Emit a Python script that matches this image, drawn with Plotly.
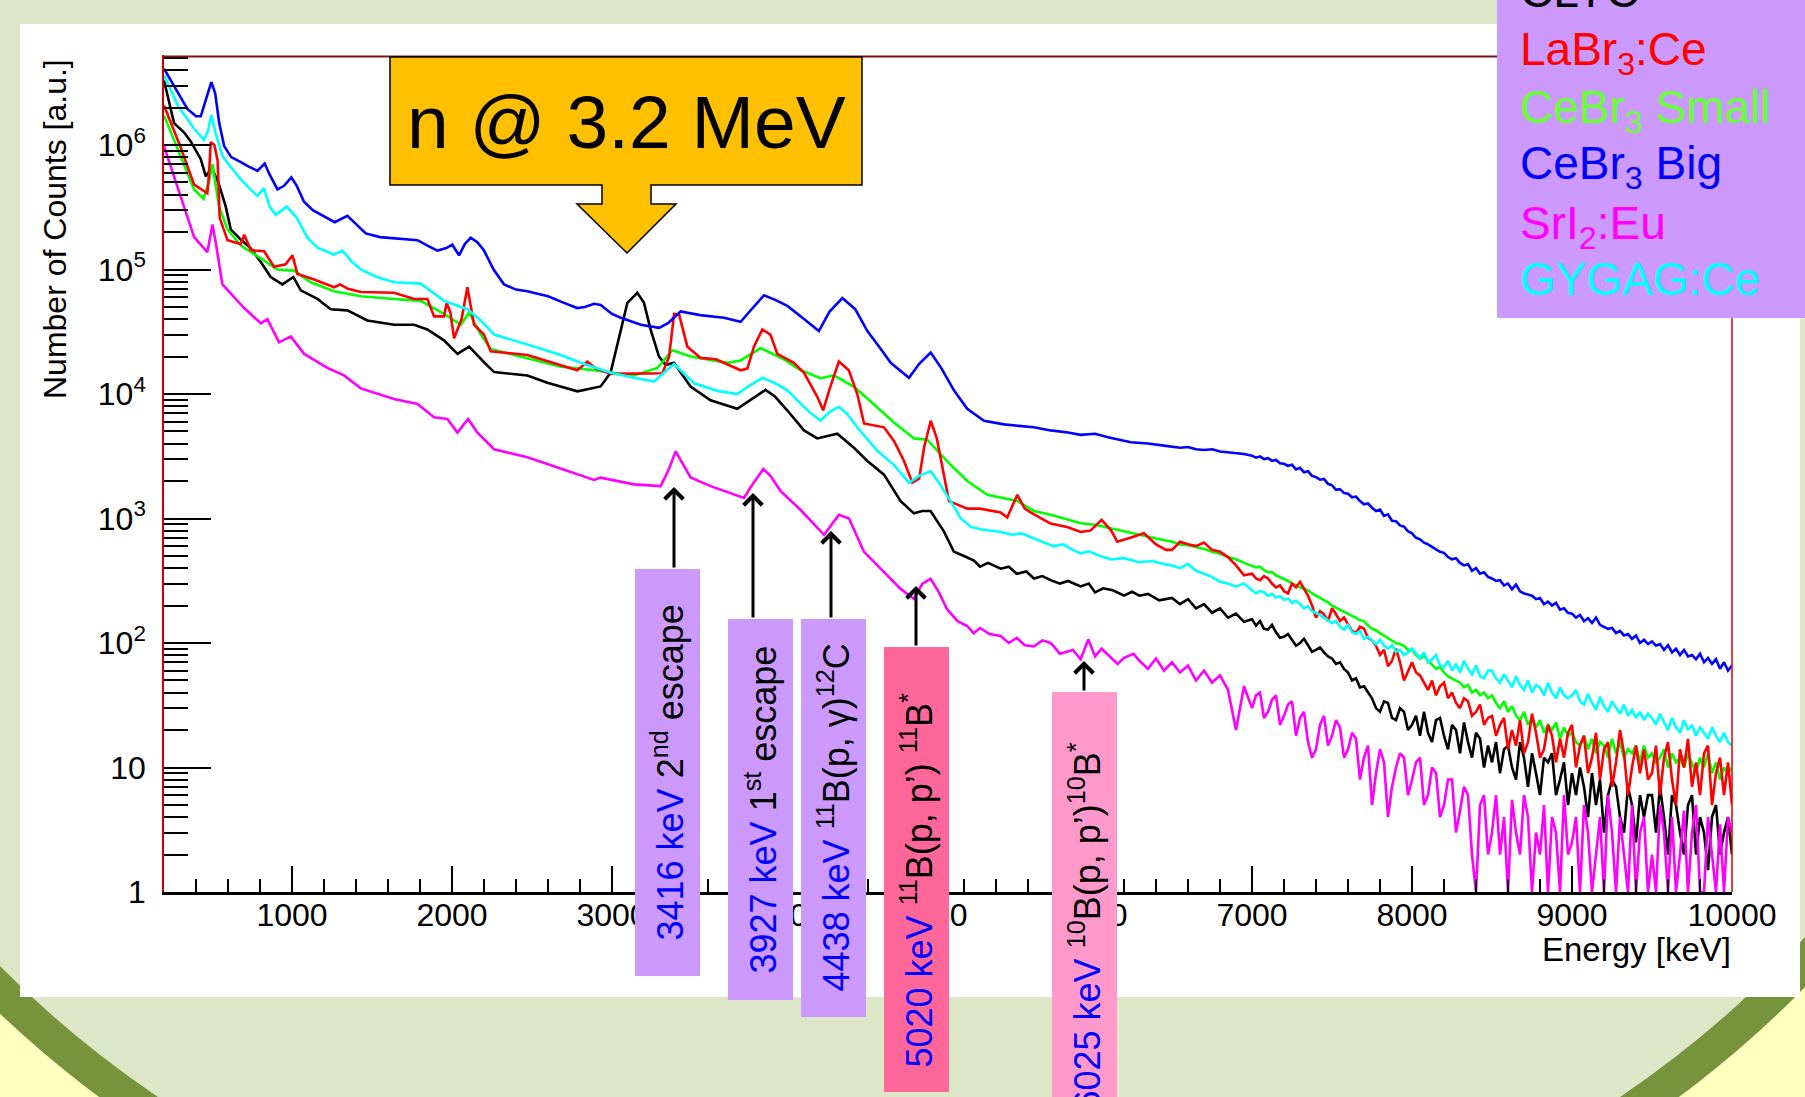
import plotly.graph_objects as go

# ---------------- canvas / frame geometry ----------------
W, H = 1805, 1097
ML, MR, MT, MB = 164, 73, 55, 205

# ---------------- data ----------------
SERIES_NAMES = ["CLYC", "LaBr3:Ce", "CeBr3 Small", "CeBr3 Big", "SrI2:Eu", "GYGAG:Ce"]

X_TICKS = [1000, 2000, 3000, 4000, 5000, 6000, 7000, 8000, 9000, 10000]
X_TICK_TEXT = ["1000", "2000", "3000", "4000", "5000", "6000", "7000", "8000", "9000", "10000"]
Y_TICKS = [1, 10, 100, 1000, 10000, 100000, 1000000]
Y_TICK_TEXT = ["1", "10", "10<sup>2</sup>", "10<sup>3</sup>", "10<sup>4</sup>", "10<sup>5</sup>", "10<sup>6</sup>"]
Y_MINOR = [m * d for d in [1, 10, 100, 1000, 10000, 100000, 1000000] for m in range(2, 10)]

# energy bins of the noisy high-energy tail (keV)
TAIL_E = list(range(7000, 10001, 25))

# (energy keV, counts) for the smoother part of each spectrum
CLYC_LOW = [
    (200, 3.3e6), (263, 1.5e6), (326, 1.26e6), (367, 1.07e6), (430, 7.7e5), (461, 5.6e5),
    (485, 6.2e5), (505, 6.3e5), (544, 4.8e5), (586, 3.2e5), (617, 2.1e5), (680, 1.74e5),
    (742, 1.48e5), (805, 1.15e5), (867, 8.7e4), (940, 7.6e4), (1009, 8.7e4), (1055, 6.8e4),
    (1159, 5.8e4), (1242, 4.8e4), (1346, 4.7e4), (1471, 3.9e4), (1638, 3.6e4), (1763, 3.6e4),
    (1846, 3.3e4), (1950, 2.7e4), (2034, 2.1e4), (2107, 2.4e4), (2200, 1.8e4), (2263, 1.5e4),
    (2471, 1.41e4), (2596, 1.23e4), (2784, 1.05e4), (2860, 1.1e4), (2929, 1.15e4), (2991, 1.48e4),
    (3054, 3.3e4), (3096, 5.4e4), (3158, 6.5e4), (3200, 5.4e4), (3241, 3.3e4), (3294, 2.0e4),
    (3335, 1.71e4), (3387, 1.78e4), (3491, 1.15e4), (3616, 8.9e3), (3783, 7.6e3), (3870, 9.0e3),
    (3960, 1.08e4), (4020, 9.5e3), (4095, 7.4e3), (4200, 5.1e3), (4283, 4.4e3), (4408, 4.8e3),
    (4512, 3.7e3), (4596, 2.9e3), (4700, 2.25e3), (4804, 1.38e3), (4887, 1.1e3), (4940, 1.15e3),
    (4991, 1.15e3), (5075, 785), (5137, 540), (5200, 500), (5262, 460), (5300, 410), (5350, 440),
    (5429, 395), (5480, 410), (5530, 360), (5590, 375), (5637, 330), (5690, 345), (5741, 320),
    (5800, 300), (5850, 315), (5929, 285), (5980, 300), (6019, 255), (6070, 275), (6130, 265),
    (6200, 240), (6250, 258), (6296, 240), (6350, 248), (6420, 220),
    (6500, 230), (6550, 205), (6600, 225), (6650, 190), (6700, 205), (6750, 175), (6800, 190),
    (6850, 160), (6900, 172), (6950, 148),
]
CLYC_TAIL = [
    155, 138, 150, 130, 128, 140, 122, 110, 112, 118, 106, 95, 100, 108, 96, 85, 88, 92, 84, 78,
    75, 68, 70, 62, 58, 50, 52, 44, 45, 40, 36, 30, 28, 34, 33, 25, 24, 30, 28, 20,
    22, 26, 18, 28, 19, 16, 24, 25, 18, 14, 22, 20, 13, 23, 16, 12, 19, 17, 10, 15,
    11, 16, 9, 14, 15, 10, 8, 16, 12, 7, 13, 9, 6, 12, 11, 13, 6, 8, 11, 5,
    9, 6, 10, 7, 4, 9, 5, 8, 3, 6, 8, 7, 4, 3, 7, 5, 2.5, 6, 4, 6,
    6, 3, 7, 4, 2, 6, 5, 3, 2, 5, 6, 2, 4, 3, 1.5, 4, 5, 2, 3, 4,
    2,
]

LABR_LOW = [
    (200, 2.08e6), (305, 9.5e5), (388, 4.8e5), (471, 4.1e5), (482, 6.0e5), (492, 1.05e6),
    (515, 1.0e6), (535, 7.5e5), (548, 2.6e5), (597, 1.72e5), (680, 1.6e5), (701, 1.9e5),
    (743, 1.43e5), (826, 1.4e5), (888, 1.05e5), (960, 1.1e5), (1003, 1.3e5), (1034, 9.2e4),
    (1138, 8.3e4), (1263, 7.2e4), (1300, 7.6e4), (1350, 7.0e4), (1430, 6.6e4), (1638, 6.5e4),
    (1763, 5.8e4), (1846, 5.8e4), (1888, 4.2e4), (1950, 4.2e4), (1967, 5.4e4), (1990, 4.5e4),
    (2013, 2.8e4), (2060, 4.0e4), (2096, 7.2e4), (2120, 5.0e4), (2138, 3.6e4), (2200, 3.0e4),
    (2242, 2.2e4), (2471, 2.06e4), (2680, 1.7e4), (2783, 1.55e4), (2846, 1.82e4), (2900, 1.6e4),
    (2992, 1.45e4), (3180, 1.45e4), (3315, 1.47e4), (3357, 2.0e4), (3388, 4.4e4), (3420, 4.3e4),
    (3471, 2.4e4), (3554, 1.95e4), (3650, 1.9e4), (3804, 1.55e4), (3846, 1.6e4), (3887, 2.4e4),
    (3940, 3.3e4), (3990, 3.0e4), (4033, 2.1e4), (4137, 1.78e4), (4200, 1.48e4), (4283, 9.5e3),
    (4320, 7.4e3), (4360, 1.1e4), (4418, 1.82e4), (4480, 1.55e4), (4533, 1.0e4), (4575, 5.8e3),
    (4700, 5.4e3), (4762, 4.2e3), (4825, 2.9e3), (4877, 1.94e3), (4920, 2.1e3), (4950, 3.7e3),
    (4992, 6.1e3), (5030, 4.4e3), (5075, 2.25e3), (5106, 1.38e3), (5221, 1.2e3), (5300, 1.2e3),
    (5429, 1.12e3), (5470, 1.02e3), (5533, 1.55e3), (5580, 1.2e3), (5616, 1.12e3), (5741, 910),
    (5850, 850), (5929, 780), (5990, 800), (6060, 975), (6120, 800), (6158, 650), (6240, 700),
    (6325, 760), (6400, 620), (6463, 560),
    (6500, 560), (6550, 650), (6600, 620), (6650, 600), (6700, 640), (6750, 560), (6800, 540),
    (6850, 490), (6900, 420), (6950, 350),
]
LABR_TAIL = [
    360, 330, 320, 345, 330, 300, 280, 290, 260, 250, 300, 280, 310, 270, 240, 200, 160, 180, 170, 150,
    190, 170, 150, 160, 140, 125, 120, 135, 130, 110, 105, 95, 80, 88, 65, 72, 90, 70, 50, 60,
    70, 58, 55, 48, 42, 50, 38, 45, 48, 36, 40, 33, 30, 36, 34, 26, 28, 32, 22, 25,
    26, 18, 22, 25, 14, 20, 15, 24, 13, 16, 27, 19, 12, 14, 22, 18, 11, 17, 12, 19,
    22, 10, 15, 18, 9, 12, 19, 8, 14, 16, 7, 11, 20, 13, 6, 10, 15, 9, 14, 8,
    9, 15, 6, 12, 16, 8, 5, 14, 10, 17, 7, 11, 6, 13, 15, 5, 9, 12, 6, 11,
    5,
]

CEBRS_LOW = [
    (200, 1.73e6), (305, 8.1e5), (388, 4.4e5), (447, 3.7e5), (480, 5.0e5), (503, 7.0e5),
    (525, 4.8e5), (544, 3.2e5), (597, 2.1e5), (680, 1.56e5), (805, 1.23e5), (909, 1.0e5),
    (1013, 9.8e4), (1117, 7.9e4), (1263, 6.7e4), (1430, 6.1e4), (1638, 5.8e4), (1804, 5.6e4),
    (1950, 4.4e4), (2055, 3.6e4), (2106, 4.5e4), (2180, 3.0e4), (2242, 2.3e4), (2471, 1.95e4),
    (2680, 1.66e4), (2888, 1.55e4), (3138, 1.41e4), (3284, 1.62e4), (3378, 2.25e4), (3492, 2.0e4),
    (3721, 1.78e4), (3804, 1.86e4), (3929, 2.34e4), (4075, 1.9e4), (4179, 1.55e4), (4304, 1.34e4),
    (4387, 1.41e4), (4512, 1.14e4), (4596, 9.2e3), (4762, 5.9e3), (4888, 4.4e3), (4970, 4.3e3),
    (5116, 2.7e3), (5221, 2.0e3), (5346, 1.55e3), (5533, 1.38e3), (5637, 1.15e3), (5741, 1.07e3),
    (5850, 980), (5929, 915), (6019, 890), (6150, 820), (6296, 740), (6400, 690),
    (6500, 650), (6550, 620), (6600, 610), (6650, 590), (6700, 570), (6750, 540), (6800, 520),
    (6850, 490), (6900, 470), (6950, 440),
]
CEBRS_TAIL = [
    420, 405, 410, 385, 370, 372, 350, 338, 330, 315, 300, 292, 280, 272, 265, 250, 240, 232, 220, 212,
    200, 192, 185, 178, 170, 165, 160, 152, 150, 138, 130, 126, 120, 115, 110, 104, 100, 98, 95, 88,
    88, 80, 75, 78, 72, 66, 62, 64, 58, 54, 52, 50, 48, 44, 46, 40, 42, 38, 40, 36,
    38, 33, 30, 34, 28, 31, 26, 24, 28, 22, 25, 21, 24, 19, 22, 20, 23, 17, 21, 18,
    19, 16, 15, 18, 14, 17, 13, 16, 15, 12, 17, 13, 16, 12, 14, 13, 15, 11, 15, 12,
    13, 11, 12, 14, 10, 13, 11, 12, 10, 13, 11, 9, 12, 10, 13, 9, 11, 8, 10, 9,
    10,
]

CEBRB_LOW = [
    (200, 4.1e6), (284, 2.7e6), (346, 1.95e6), (400, 1.7e6), (430, 1.7e6), (470, 2.5e6),
    (496, 3.2e6), (520, 2.6e6), (545, 1.5e6), (576, 9.8e5), (620, 8.0e5), (680, 7.3e5),
    (721, 6.8e5), (784, 6.2e5), (829, 7.1e5), (860, 5.8e5), (909, 4.4e5), (950, 4.7e5),
    (996, 5.5e5), (1030, 4.7e5), (1075, 3.5e5), (1130, 3.0e5), (1180, 2.75e5), (1267, 2.4e5),
    (1346, 2.7e5), (1400, 2.3e5), (1461, 1.95e5), (1550, 1.82e5), (1638, 1.78e5), (1784, 1.72e5),
    (1850, 1.55e5), (1909, 1.42e5), (1960, 1.48e5), (2002, 1.58e5), (2044, 1.3e5), (2080, 1.6e5),
    (2117, 1.8e5), (2160, 1.65e5), (2200, 1.42e5), (2260, 1.0e5), (2325, 7.6e4), (2400, 6.9e4),
    (2471, 6.7e4), (2600, 6.1e4), (2700, 5.4e4), (2783, 4.9e4), (2830, 5.0e4), (2888, 5.3e4),
    (2929, 5.2e4), (3000, 4.4e4), (3055, 4.1e4), (3180, 3.6e4), (3294, 3.4e4), (3350, 3.7e4),
    (3429, 4.6e4), (3550, 4.3e4), (3700, 4.1e4), (3804, 3.8e4), (3860, 4.6e4), (3950, 6.2e4),
    (4020, 5.7e4), (4096, 5.1e4), (4200, 4.0e4), (4293, 3.2e4), (4360, 4.6e4), (4440, 5.9e4),
    (4520, 4.8e4), (4596, 3.2e4), (4680, 2.3e4), (4742, 1.78e4), (4856, 1.35e4), (4920, 1.75e4),
    (4992, 2.15e4), (5060, 1.6e4), (5137, 1.07e4), (5220, 7.6e3), (5325, 6.1e3), (5450, 5.7e3),
    (5637, 5.4e3), (5741, 5.1e3), (5850, 4.9e3), (5929, 4.7e3), (6019, 4.8e3), (6100, 4.5e3),
    (6242, 4.1e3), (6350, 4.0e3), (6450, 3.85e3),
    (6500, 3800), (6550, 3700), (6600, 3750), (6650, 3600), (6700, 3550), (6750, 3600),
    (6800, 3450), (6850, 3400), (6900, 3350), (6950, 3300),
]
CEBRB_TAIL = [
    3200, 3080, 3150, 3000, 3050, 2900, 2950, 2780, 2750, 2650, 2700, 2480, 2550, 2350, 2400, 2200, 2150, 2050, 2080, 1900,
    1850, 1700, 1720, 1600, 1580, 1480, 1500, 1380, 1300, 1320, 1220, 1150, 1180, 1050, 1080, 960, 950, 880, 860, 790,
    760, 700, 680, 640, 620, 590, 560, 540, 530, 490, 470, 480, 440, 420, 430, 380, 400, 360, 370, 340,
    330, 315, 320, 290, 300, 270, 295, 260, 250, 245, 240, 225, 230, 205, 215, 200, 210, 185, 190, 175,
    172, 160, 168, 150, 158, 145, 160, 140, 135, 130, 132, 120, 125, 115, 118, 108, 115, 100, 106, 98,
    103, 95, 98, 88, 96, 84, 90, 80, 88, 78, 80, 74, 82, 70, 76, 68, 74, 62, 70, 60,
    66,
]

SRI_LOW = [
    (200, 9.8e5), (263, 5.6e5), (326, 3.2e5), (388, 1.82e5), (471, 1.38e5), (490, 1.8e5),
    (503, 2.3e5), (525, 1.6e5), (544, 1.12e5), (565, 7.6e4), (638, 6.0e4), (701, 4.9e4),
    (805, 3.7e4), (846, 4.0e4), (919, 2.6e4), (992, 2.9e4), (1076, 2.1e4), (1221, 1.62e4),
    (1325, 1.41e4), (1430, 1.11e4), (1638, 9.1e3), (1784, 8.3e3), (1888, 6.5e3), (1971, 6.3e3),
    (2034, 4.9e3), (2100, 6.3e3), (2159, 4.9e3), (2263, 3.6e3), (2471, 3.1e3), (2680, 2.5e3),
    (2888, 2.04e3), (2929, 2.13e3), (3137, 1.88e3), (3304, 1.82e3), (3350, 2.4e3), (3398, 3.46e3),
    (3440, 2.8e3), (3491, 2.14e3), (3616, 1.82e3), (3825, 1.46e3), (3866, 1.78e3), (3946, 2.5e3),
    (3990, 2.2e3), (4054, 1.66e3), (4179, 1.17e3), (4325, 740), (4418, 1.07e3), (4481, 1.0e3),
    (4575, 540), (4700, 370), (4804, 272), (4887, 226), (4940, 300), (4991, 328), (5040, 260),
    (5095, 186), (5160, 150), (5220, 137), (5260, 120), (5300, 132), (5360, 118), (5429, 114),
    (5480, 100), (5530, 110), (5580, 96), (5637, 94), (5690, 105), (5741, 100), (5800, 82),
    (5880, 88), (5929, 74), (5977, 107), (6019, 78), (6060, 90), (6100, 80), (6160, 68),
    (6200, 76), (6260, 82), (6296, 72), (6350, 62), (6400, 75), (6450, 60),
    (6500, 70), (6550, 58), (6600, 66), (6650, 50), (6700, 60), (6750, 48), (6800, 55),
    (6850, 42), (6900, 20), (6950, 45),
]
SRI_TAIL = [
    30, 38, 40, 25, 28, 35, 38, 22, 26, 32, 34, 18, 25, 28, 16, 12, 14, 22, 26, 15,
    18, 24, 21, 12, 14, 19, 17, 8, 12, 15, 5, 9, 14, 11, 4, 7, 10, 13, 12, 6,
    8, 11, 12, 5, 6, 10, 9, 4, 5, 8, 8, 3, 4.5, 7, 6, 2, 1, 5, 6, 2,
    3, 6, 2, 4, 1, 5.5, 3, 2, 6, 4, 1, 3, 2, 5, 1, 4, 3, 1, 6, 2,
    2.5, 4, 1, 5, 3, 1, 2, 4, 1, 6, 3, 1, 4, 2, 1, 5, 1, 3, 4, 1,
    2, 1, 5, 3, 1, 4, 1, 2, 4.5, 1, 3, 5, 1, 1, 4, 2, 1, 3.5, 1, 4,
    3,
]

GYGAG_LOW = [
    (200, 3.65e6), (284, 2.1e6), (388, 1.35e6), (450, 1.1e6), (475, 1.3e6), (496, 1.75e6),
    (524, 1.23e6), (566, 8.1e5), (620, 6.6e5), (680, 5.3e5), (740, 4.4e5), (784, 3.9e5),
    (825, 4.5e5), (860, 3.2e5), (899, 2.75e5), (967, 3.2e5), (1030, 2.6e5), (1096, 1.8e5),
    (1160, 1.5e5), (1222, 1.38e5), (1260, 1.32e5), (1315, 1.42e5), (1370, 1.17e5), (1430, 1.0e5),
    (1530, 8.7e4), (1638, 7.9e4), (1804, 7.7e4), (1950, 5.6e4), (2096, 4.8e4), (2180, 3.9e4),
    (2263, 3.0e4), (2471, 2.5e4), (2680, 2.06e4), (2804, 1.78e4), (2992, 1.48e4), (3138, 1.35e4),
    (3263, 1.26e4), (3330, 1.5e4), (3388, 1.74e4), (3440, 1.5e4), (3513, 1.22e4), (3659, 1.06e4),
    (3783, 1.0e4), (3860, 1.17e4), (3940, 1.35e4), (4020, 1.22e4), (4096, 1.07e4), (4221, 7.4e3),
    (4304, 6.1e3), (4360, 7.2e3), (4418, 7.9e3), (4470, 6.9e3), (4533, 5.4e3), (4658, 3.5e3),
    (4762, 2.7e3), (4856, 1.94e3), (4920, 2.2e3), (4992, 2.4e3), (5050, 1.88e3), (5116, 1.38e3),
    (5180, 1.0e3), (5241, 860), (5300, 820), (5360, 800), (5429, 780), (5500, 740), (5560, 760),
    (5637, 690), (5700, 640), (5760, 600), (5820, 620), (5880, 560), (5929, 525), (5980, 545),
    (6050, 500), (6120, 470), (6200, 480), (6296, 445), (6380, 455), (6450, 430),
    (6500, 420), (6550, 400), (6600, 430), (6650, 380), (6700, 360), (6750, 340), (6800, 310),
    (6850, 300), (6900, 285), (6950, 300),
]
GYGAG_TAIL = [
    265, 250, 262, 255, 240, 248, 232, 238, 222, 228, 210, 218, 205, 190, 198, 180, 175, 168, 160, 152,
    145, 150, 135, 128, 140, 122, 118, 125, 108, 112, 104, 98, 106, 95, 90, 96, 85, 88, 80, 84,
    90, 82, 76, 84, 70, 74, 80, 66, 64, 72, 60, 68, 58, 72, 62, 56, 66, 54, 52, 60,
    60, 52, 48, 56, 50, 44, 54, 46, 42, 50, 40, 46, 44, 38, 48, 40, 36, 44, 38, 36,
    38, 42, 34, 32, 39, 33, 29, 37, 31, 28, 34, 30, 27, 32, 26, 29, 25, 28, 24, 27,
    25, 22, 27, 23, 20, 25, 21, 19, 24, 20, 22, 18, 21, 19, 17, 21, 18, 16, 19, 16,
    15,
]

# ---------------- helpers (pixel -> paper) ----------------
PW = W - ML - MR
PH = H - MT - MB


def px(x):
    return (x - ML) / PW


def py(y):
    return (H - MB - y) / PH


def spectrum(low, tail):
    xs = [e for e, _ in low] + TAIL_E
    ys = [c for _, c in low] + tail
    return xs, ys


fig = go.Figure()

# draw order: CLYC, CeBr3 small, LaBr3, CeBr3 big, GYGAG, SrI2
traces = [
    ("CLYC", CLYC_LOW, CLYC_TAIL, "#000000"),
    ("CeBr3 Small", CEBRS_LOW, CEBRS_TAIL, "#00FF00"),
    ("LaBr3:Ce", LABR_LOW, LABR_TAIL, "#FF0000"),
    ("CeBr3 Big", CEBRB_LOW, CEBRB_TAIL, "#0000FF"),
    ("GYGAG:Ce", GYGAG_LOW, GYGAG_TAIL, "#00FFFF"),
    ("SrI2:Eu", SRI_LOW, SRI_TAIL, "#FF00FF"),
]
for name, low, tail, col in traces:
    xs, ys = spectrum(low, tail)
    fig.add_trace(go.Scatter(x=xs, y=ys, mode="lines", name=name,
                             line=dict(color=col, width=2.6, shape="linear"),
                             showlegend=False, hoverinfo="skip"))

FONT = "Liberation Sans, Arial, sans-serif"

shapes = []
# slide decoration: large green ellipse with olive border on yellow
shapes.append(dict(type="circle", xref="paper", yref="paper", layer="below",
                   x0=px(-240), x1=px(2018), y0=py(1325.7), y1=py(-425.7),
                   fillcolor="#DDE7C8", line=dict(color="#77933C", width=34)))
# white panel
shapes.append(dict(type="rect", xref="paper", yref="paper", layer="below",
                   x0=px(20), x1=px(1800), y0=py(997), y1=py(24),
                   fillcolor="white", line=dict(width=0)))
# frame top and right (ROOT style)
shapes.append(dict(type="line", xref="paper", yref="paper", layer="above",
                   x0=px(164), x1=px(1732), y0=py(56.5), y1=py(56.5),
                   line=dict(color="#7A1515", width=2)))
shapes.append(dict(type="line", xref="paper", yref="paper", layer="above",
                   x0=px(1732), x1=px(1732), y0=py(56), y1=py(892),
                   line=dict(color="#DD0000", width=1.5)))
# callout "n @ 3.2 MeV"
pts = [(390, 57), (862, 57), (862, 185), (651, 185), (651, 204), (676, 204), (627, 253),
       (577, 204), (602, 204), (602, 185), (390, 185)]
path = "M " + " L ".join(f"{px(a):.5f},{py(b):.5f}" for a, b in pts) + " Z"
shapes.append(dict(type="path", xref="paper", yref="paper", layer="above", path=path,
                   fillcolor="#FFC000", line=dict(color="black", width=1.5)))
# annotation boxes
boxes = [
    (635, 700, 569, 976, "#CC99FF"),
    (728, 793, 619, 1000, "#CC99FF"),
    (801, 866, 619, 1017, "#CC99FF"),
    (884, 949, 647, 1092, "#FF6699"),
    (1052, 1117, 692, 1105, "#FF99CC"),
]
for x0, x1, y0, y1, col in boxes:
    shapes.append(dict(type="rect", xref="paper", yref="paper", layer="above",
                       x0=px(x0), x1=px(x1), y0=py(y1), y1=py(y0),
                       fillcolor=col, line=dict(width=0)))
# legend box
shapes.append(dict(type="rect", xref="paper", yref="paper", layer="above",
                   x0=px(1497), x1=px(1810), y0=py(318), y1=py(-5),
                   fillcolor="#CC99FF", line=dict(width=0)))

ann = []
# axis titles
ann.append(dict(text="Number of Counts [a.u.]", xref="paper", yref="paper",
                x=px(55), y=py(57), xanchor="center", yanchor="top", textangle=-90,
                showarrow=False, font=dict(size=32, family=FONT, color="black")))
ann.append(dict(text="Energy [keV]", xref="paper", yref="paper",
                x=px(1733), y=py(950), xanchor="right", yanchor="middle",
                showarrow=False, font=dict(size=33, family=FONT, color="black")))
# callout text
ann.append(dict(text="n @ 3.2 MeV", xref="paper", yref="paper", x=px(626), y=py(122),
                xanchor="center", yanchor="middle", showarrow=False,
                font=dict(size=75, family=FONT, color="black")))
# legend entries
legend_items = [
    ("CLYC", "#000000", -9),
    ("LaBr<sub>3</sub>:Ce", "#FF0000", 52),
    ("CeBr<sub>3</sub> Small", "#66FF33", 110),
    ("CeBr<sub>3</sub> Big", "#0000FF", 167),
    ("SrI<sub>2</sub>:Eu", "#FF00FF", 226),
    ("GYGAG:Ce", "#00FFFF", 279),
]
for txt, col, yc in legend_items:
    ann.append(dict(text=txt, xref="paper", yref="paper", x=px(1518), y=py(yc),
                    xanchor="left", yanchor="middle", showarrow=False,
                    font=dict(size=46, family=FONT, color=col)))
# rotated line labels
BL = "<span style='color:#0000FF'>{}</span>"
labels = [
    (BL.format("3416 keV") + " 2<sup>nd</sup> escape", 667.5, 773),
    (BL.format("3927 keV") + " 1<sup>st</sup> escape", 760.5, 810),
    (BL.format("4438 keV") + " <sup>11</sup>B(p, γ)<sup>12</sup>C", 833.5, 818),
    (BL.format("5020 keV") + " <sup>11</sup>B(p, p’) <sup>11</sup>B<sup>*</sup>", 916.5, 880),
    (BL.format("6025 keV") + " <sup>10</sup>B(p, p’)<sup>10</sup>B<sup>*</sup>", 1084.5, 927),
]
for txt, xc, yc in labels:
    ann.append(dict(text=txt, xref="paper", yref="paper", x=px(xc), y=py(yc),
                    xanchor="center", yanchor="middle", textangle=-90, showarrow=False,
                    font=dict(size=36, family=FONT, color="black")))
# arrows
arrows = [(674, 487, 569), (753, 493, 619), (831, 531, 619), (916, 586, 647), (1084, 661, 692)]
for xa, ytip, ytail in arrows:
    ann.append(dict(text="", xref="paper", yref="paper", x=px(xa), y=py(ytip),
                    ax=0, ay=ytail - ytip, showarrow=True, arrowhead=4, arrowsize=1.2,
                    arrowwidth=3, arrowcolor="black", standoff=0))

fig.update_layout(
    width=W, height=H,
    margin=dict(l=ML, r=MR, t=MT, b=MB, pad=0, autoexpand=False),
    paper_bgcolor="#FFFFBF", plot_bgcolor="white",
    showlegend=False,
    font=dict(family=FONT, size=32, color="black"),
    shapes=shapes, annotations=ann,
    xaxis=dict(type="linear", range=[200, 10000], showgrid=False, zeroline=False,
               showline=True, linecolor="black", linewidth=2.5,
               ticks="inside", ticklen=26, tickwidth=2, tickcolor="black",
               tickmode="array", tickvals=X_TICKS, ticktext=X_TICK_TEXT,
               ticklabelstandoff=-7,
               tickfont=dict(size=32, family=FONT, color="black"),
               minor=dict(ticks="inside", ticklen=13, tickwidth=2, tickcolor="black",
                          tick0=0, dtick=200, showgrid=False)),
    yaxis=dict(type="log", range=[0, 6.723], showgrid=False, zeroline=False,
               showline=True, linecolor="#CC0000", linewidth=1.5,
               ticks="inside", ticklen=47, tickwidth=2, tickcolor="black",
               tickmode="array", tickvals=Y_TICKS, ticktext=Y_TICK_TEXT,
               ticklabelstandoff=10,
               tickfont=dict(size=32, family=FONT, color="black"),
               minor=dict(ticks="inside", ticklen=24, tickwidth=2, tickcolor="black",
                          tickmode="array", tickvals=Y_MINOR, showgrid=False)),
)

fig.write_html("out.html", config={"displayModeBar": False},
               post_script="document.body.style.margin='0';")
